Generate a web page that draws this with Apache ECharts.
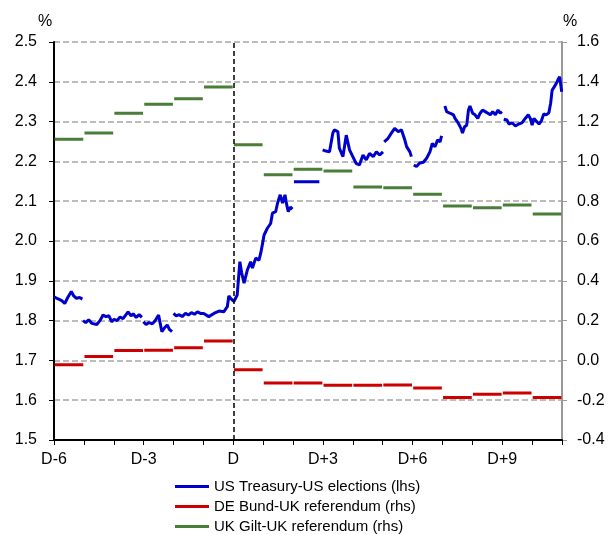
<!DOCTYPE html>
<html>
<head>
<meta charset="utf-8">
<script src="https://cdn.jsdelivr.net/npm/echarts@6/dist/echarts.min.js"></script>
<style>
  html, body { margin: 0; padding: 0; background: #fff; }
  #chart { width: 609px; height: 534px; }
</style>
</head>
<body>
<div id="chart"></div>
<script>
// x axis: days around the event (D = 0)
const xTickDays = [-6, -3, 0, 3, 6, 9];
const xTickLabels = ['D-6', 'D-3', 'D', 'D+3', 'D+6', 'D+9'];

// daily closes, one per day starting at D-6 (rhs, %)
const stepStart = -6;
const bundRhs = [-0.022, 0.019, 0.050, 0.051, 0.064, 0.097, -0.047, -0.114, -0.114,
  -0.125, -0.125, -0.124, -0.139, -0.187, -0.170, -0.164, -0.187];
const giltRhs = [1.111, 1.143, 1.242, 1.287, 1.315, 1.374, 1.084, 0.933, 0.961,
  0.952, 0.871, 0.868, 0.835, 0.776, 0.767, 0.781, 0.736];

// US Treasury intraday (lhs, %), one array per trading session: [day, yield]
const ustSessions = [
  [[-6.0, 1.860], [-5.88, 1.855], [-5.74, 1.850], [-5.64, 1.843], [-5.54, 1.858], [-5.42, 1.873],
   [-5.34, 1.862], [-5.25, 1.856], [-5.14, 1.858], [-5.05, 1.854]],
  [[-5.03, 1.800], [-4.94, 1.795], [-4.84, 1.802], [-4.73, 1.793], [-4.57, 1.790], [-4.46, 1.800],
   [-4.36, 1.814], [-4.26, 1.810], [-4.16, 1.812], [-4.07, 1.797], [-3.99, 1.803], [-3.89, 1.800],
   [-3.79, 1.809], [-3.69, 1.805], [-3.59, 1.815], [-3.52, 1.822], [-3.42, 1.812], [-3.35, 1.817],
   [-3.25, 1.808], [-3.15, 1.815], [-3.06, 1.808]],
  [[-3.01, 1.797], [-2.92, 1.790], [-2.82, 1.795], [-2.71, 1.792], [-2.61, 1.800], [-2.50, 1.814],
   [-2.45, 1.795], [-2.39, 1.772], [-2.30, 1.782], [-2.21, 1.789], [-2.14, 1.778], [-2.05, 1.772]],
  [[-2.00, 1.818], [-1.91, 1.812], [-1.81, 1.815], [-1.71, 1.810], [-1.60, 1.818], [-1.50, 1.814],
   [-1.40, 1.820], [-1.30, 1.816], [-1.20, 1.822], [-1.10, 1.818], [-0.99, 1.818], [-0.82, 1.810],
   [-0.65, 1.818], [-0.48, 1.824], [-0.32, 1.822], [-0.20, 1.835], [-0.15, 1.862], [-0.09, 1.856],
   [-0.03, 1.859], [0.02, 1.848], [0.13, 1.864], [0.22, 1.948], [0.28, 1.920], [0.36, 1.894],
   [0.47, 1.927], [0.58, 1.948], [0.64, 1.932], [0.75, 1.957], [0.86, 1.952], [0.92, 1.970],
   [0.98, 1.994], [1.03, 2.015], [1.14, 2.032], [1.25, 2.044], [1.31, 2.070], [1.42, 2.074],
   [1.48, 2.095], [1.57, 2.116], [1.65, 2.095], [1.73, 2.116], [1.79, 2.090], [1.84, 2.074],
   [1.91, 2.085], [1.98, 2.080]],
  [[2.03, 2.149], [2.88, 2.149]],
  [[2.99, 2.229], [3.10, 2.226], [3.22, 2.224], [3.33, 2.271], [3.38, 2.279], [3.50, 2.275],
   [3.55, 2.233], [3.67, 2.212], [3.78, 2.266], [3.89, 2.229], [4.00, 2.212], [4.11, 2.195],
   [4.22, 2.191], [4.34, 2.216], [4.45, 2.204], [4.56, 2.220], [4.68, 2.212], [4.79, 2.224],
   [4.90, 2.216], [5.01, 2.224]],
  [[5.05, 2.249], [5.18, 2.258], [5.29, 2.271], [5.40, 2.283], [5.52, 2.275], [5.63, 2.279],
   [5.74, 2.254], [5.80, 2.237], [5.85, 2.233], [5.91, 2.224], [5.96, 2.212]],
  [[6.04, 2.191], [6.13, 2.187], [6.24, 2.196], [6.36, 2.198], [6.47, 2.208], [6.58, 2.224],
   [6.66, 2.245], [6.75, 2.237], [6.84, 2.254], [6.92, 2.249], [6.97, 2.264]],
  [[7.08, 2.339], [7.14, 2.325], [7.25, 2.321], [7.37, 2.317], [7.42, 2.308], [7.53, 2.296],
   [7.62, 2.283], [7.67, 2.271], [7.74, 2.287], [7.81, 2.291], [7.87, 2.329], [7.92, 2.339],
   [8.01, 2.321], [8.09, 2.317], [8.18, 2.308], [8.26, 2.321], [8.34, 2.329], [8.43, 2.325],
   [8.52, 2.321], [8.60, 2.317], [8.68, 2.325], [8.77, 2.317], [8.86, 2.329], [8.93, 2.321],
   [8.99, 2.325]],
  [[9.05, 2.306], [9.16, 2.304], [9.22, 2.294], [9.33, 2.297], [9.44, 2.289], [9.55, 2.294],
   [9.66, 2.297], [9.77, 2.308], [9.87, 2.317], [9.94, 2.308], [10.00, 2.291], [10.06, 2.308],
   [10.13, 2.302], [10.23, 2.294], [10.31, 2.302], [10.39, 2.319], [10.47, 2.317], [10.56, 2.322],
   [10.62, 2.346], [10.67, 2.379], [10.73, 2.386], [10.81, 2.396], [10.87, 2.406], [10.92, 2.413],
   [10.96, 2.392], [10.99, 2.375]]
];

const seriesNames = ['US Treasury-US elections (lhs)', 'DE Bund-UK referendum (rhs)', 'UK Gilt-UK referendum (rhs)'];
const colorBlue = '#0000cc';
const colorRed = '#cc0000';
const colorGreen = '#4a7d38';

// flat one-day segments with a small break between days
const toSteps = (vals) => {
  const out = [];
  vals.forEach((v, i) => {
    const d = stepStart + i;
    out.push([d + 0.02, v], [d + 0.98, v], [d + 0.98, '-']);
  });
  return out;
};
const joinSessions = (sessions) => {
  const out = [];
  sessions.forEach((s) => {
    s.forEach((p) => out.push(p));
    out.push([s[s.length - 1][0], '-']);
  });
  return out;
};

const font = 'Liberation Sans, Arial, sans-serif';
const chart = echarts.init(document.getElementById('chart'), null, { renderer: 'canvas' });

chart.setOption({
  animation: false,
  textStyle: { fontFamily: font },
  grid: { left: 54, right: 47, top: 42, bottom: 94, containLabel: false },
  legend: {
    orient: 'vertical',
    left: 170,
    top: 474,
    height: 80,
    itemWidth: 34,
    itemHeight: 3,
    itemGap: 5,
    icon: 'rect',
    data: seriesNames,
    textStyle: { fontSize: 15, color: '#000', fontFamily: font }
  },
  xAxis: {
    type: 'value',
    min: -6,
    max: 11,
    interval: 1,
    splitLine: { show: false },
    axisLine: { onZero: false, lineStyle: { color: '#000', width: 2 } },
    axisTick: { length: 5, lineStyle: { color: '#000', width: 1 } },
    axisLabel: {
      fontSize: 16,
      color: '#000',
      margin: 12,
      formatter: (v) => {
        const i = xTickDays.indexOf(v);
        return i >= 0 ? xTickLabels[i] : '';
      }
    }
  },
  yAxis: [{
    type: 'value',
    min: 1.5,
    max: 2.5,
    interval: 0.1,
    name: '%',
    nameLocation: 'end',
    nameGap: 12,
    nameTextStyle: { fontSize: 16, color: '#000', padding: [0, 18, 0, 0] },
    axisLine: { show: true, onZero: false, lineStyle: { color: '#000', width: 2 } },
    axisTick: { show: true, length: 5, lineStyle: { color: '#000' } },
    axisLabel: { fontSize: 16, color: '#000', margin: 17, formatter: (v) => v.toFixed(1) },
    splitLine: { show: true, lineStyle: { color: '#a6a6a6', width: 1.5, type: [6, 3] } }
  }, {
    type: 'value',
    position: 'right',
    min: -0.4,
    max: 1.6,
    interval: 0.2,
    name: '%',
    nameLocation: 'end',
    nameGap: 12,
    nameTextStyle: { fontSize: 16, color: '#000', padding: [0, 0, 0, 16] },
    axisLine: { show: true, onZero: false, lineStyle: { color: '#999', width: 2 } },
    axisTick: { show: true, length: 5, lineStyle: { color: '#999' } },
    axisLabel: { fontSize: 16, color: '#000', margin: 15, formatter: (v) => v.toFixed(1) },
    splitLine: { show: false }
  }],
  series: [{
    name: seriesNames[1],
    type: 'line',
    yAxisIndex: 1,
    data: toSteps(bundRhs),
    showSymbol: false,
    connectNulls: false,
    color: colorRed,
    lineStyle: { color: colorRed, width: 3 },
    markLine: {
      silent: true,
      symbol: 'none',
      label: { show: false },
      lineStyle: { color: '#000', width: 1.5, type: [5, 3] },
      data: [{ xAxis: 0 }]
    }
  }, {
    name: seriesNames[2],
    type: 'line',
    yAxisIndex: 1,
    data: toSteps(giltRhs),
    showSymbol: false,
    connectNulls: false,
    color: colorGreen,
    lineStyle: { color: colorGreen, width: 3 }
  }, {
    name: seriesNames[0],
    type: 'line',
    yAxisIndex: 0,
    data: joinSessions(ustSessions),
    showSymbol: false,
    connectNulls: false,
    color: colorBlue,
    lineStyle: { color: colorBlue, width: 3 }
  }]
});
</script>
</body>
</html>
